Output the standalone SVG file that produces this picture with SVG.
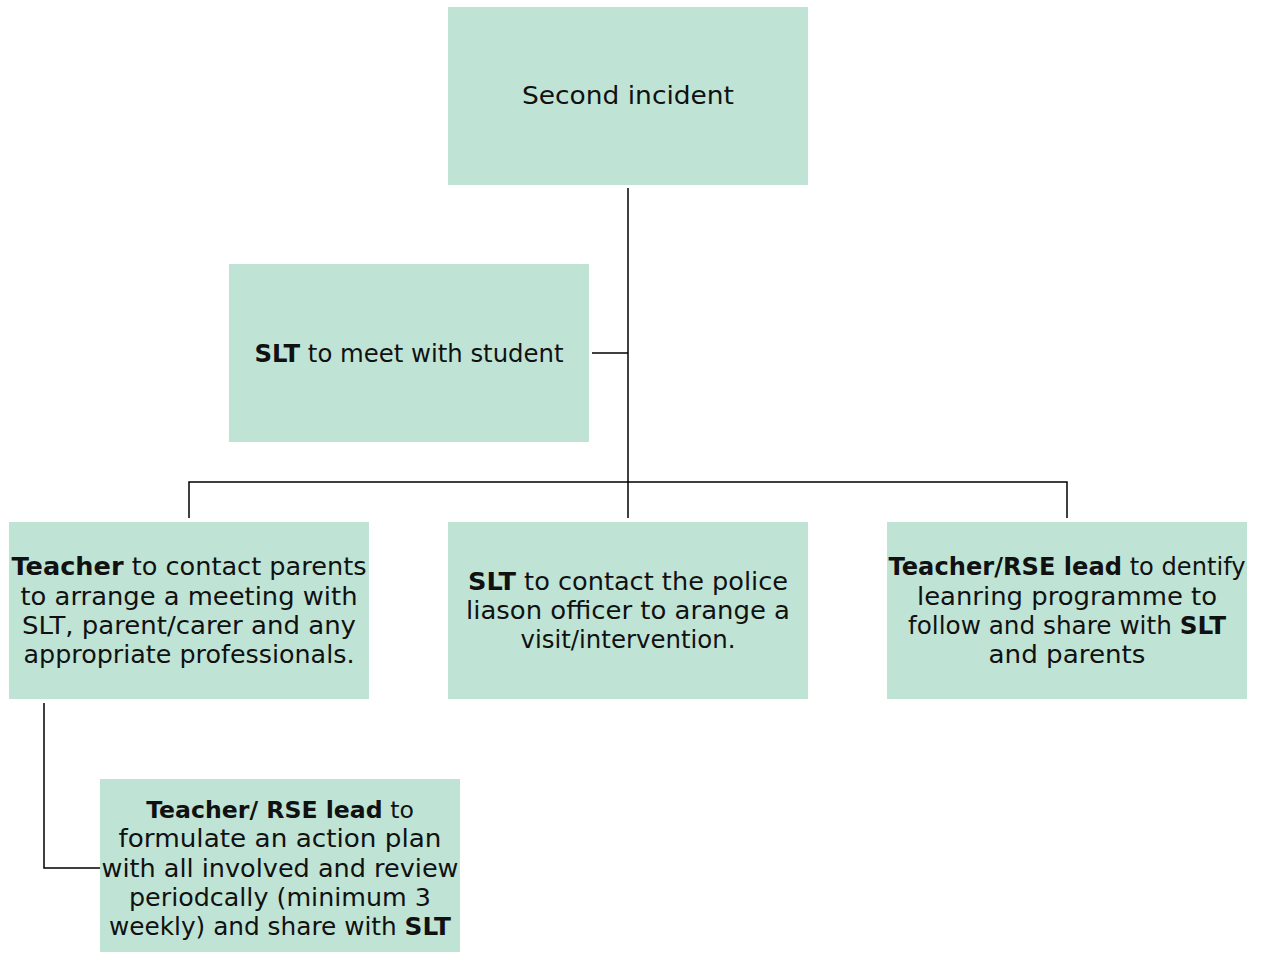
<svg xmlns="http://www.w3.org/2000/svg" width="1262" height="953" viewBox="0 0 1262 953">
<style>
.box{fill:#bfe4d6}
.t{font-family:"DejaVu Sans","Liberation Sans",sans-serif;font-size:24px;fill:#111;text-anchor:middle}
.b{font-weight:bold}
.c{stroke:#000;stroke-width:1.5;fill:none}
</style>
<rect width="1262" height="953" fill="#fff"/>
<g id="connectors">
<path class="c" d="M628 188V518"/>
<path class="c" d="M592 353H628"/>
<path class="c" d="M189 518V482H1067V518"/>
<path class="c" d="M44 703V868H100"/>
</g>
<g id="n1"><rect class="box" x="448" y="7" width="360" height="178"/>
<text class="t" x="628" y="104" textLength="212" lengthAdjust="spacingAndGlyphs">Second incident</text></g>
<g id="n2"><rect class="box" x="229" y="264" width="360" height="178"/>
<text class="t" x="409" y="362" textLength="309" lengthAdjust="spacingAndGlyphs"><tspan class="b">SLT</tspan> to meet with student</text></g>
<g id="n3"><rect class="box" x="9" y="522" width="360" height="177"/>
<text class="t" x="189" y="575" textLength="355" lengthAdjust="spacingAndGlyphs"><tspan class="b">Teacher</tspan> to contact parents</text>
<text class="t" x="189" y="605" textLength="337" lengthAdjust="spacingAndGlyphs">to arrange a meeting with</text>
<text class="t" x="189" y="634" textLength="334" lengthAdjust="spacingAndGlyphs">SLT, parent/carer and any</text>
<text class="t" x="189" y="663" textLength="331" lengthAdjust="spacingAndGlyphs">appropriate professionals.</text></g>
<g id="n4"><rect class="box" x="448" y="522" width="360" height="177"/>
<text class="t" x="628" y="590" textLength="320" lengthAdjust="spacingAndGlyphs"><tspan class="b">SLT</tspan> to contact the police</text>
<text class="t" x="628" y="619" textLength="324" lengthAdjust="spacingAndGlyphs">liason officer to arange a</text>
<text class="t" x="628" y="648" textLength="215" lengthAdjust="spacingAndGlyphs">visit/intervention.</text></g>
<g id="n5"><rect class="box" x="887" y="522" width="360" height="177"/>
<text class="t" x="1067" y="575" textLength="357" lengthAdjust="spacingAndGlyphs"><tspan class="b">Teacher/RSE lead</tspan> to dentify</text>
<text class="t" x="1067" y="605" textLength="300" lengthAdjust="spacingAndGlyphs">leanring programme to</text>
<text class="t" x="1067" y="634" textLength="318" lengthAdjust="spacingAndGlyphs">follow and share with <tspan class="b">SLT</tspan></text>
<text class="t" x="1067" y="663" textLength="157" lengthAdjust="spacingAndGlyphs">and parents</text></g>
<g id="n6"><rect class="box" x="100" y="779" width="360" height="173"/>
<text class="t" x="280" y="818" style="font-size:23.6px"><tspan class="b">Teacher/ RSE lead</tspan> to</text>
<text class="t" x="280" y="847" textLength="323" lengthAdjust="spacingAndGlyphs">formulate an action plan</text>
<text class="t" x="280" y="877" textLength="357" lengthAdjust="spacingAndGlyphs">with all involved and review</text>
<text class="t" x="280" y="906" textLength="302" lengthAdjust="spacingAndGlyphs">periodcally (minimum 3</text>
<text class="t" x="280" y="935" textLength="342" lengthAdjust="spacingAndGlyphs">weekly) and share with <tspan class="b">SLT</tspan></text></g>
</svg>
